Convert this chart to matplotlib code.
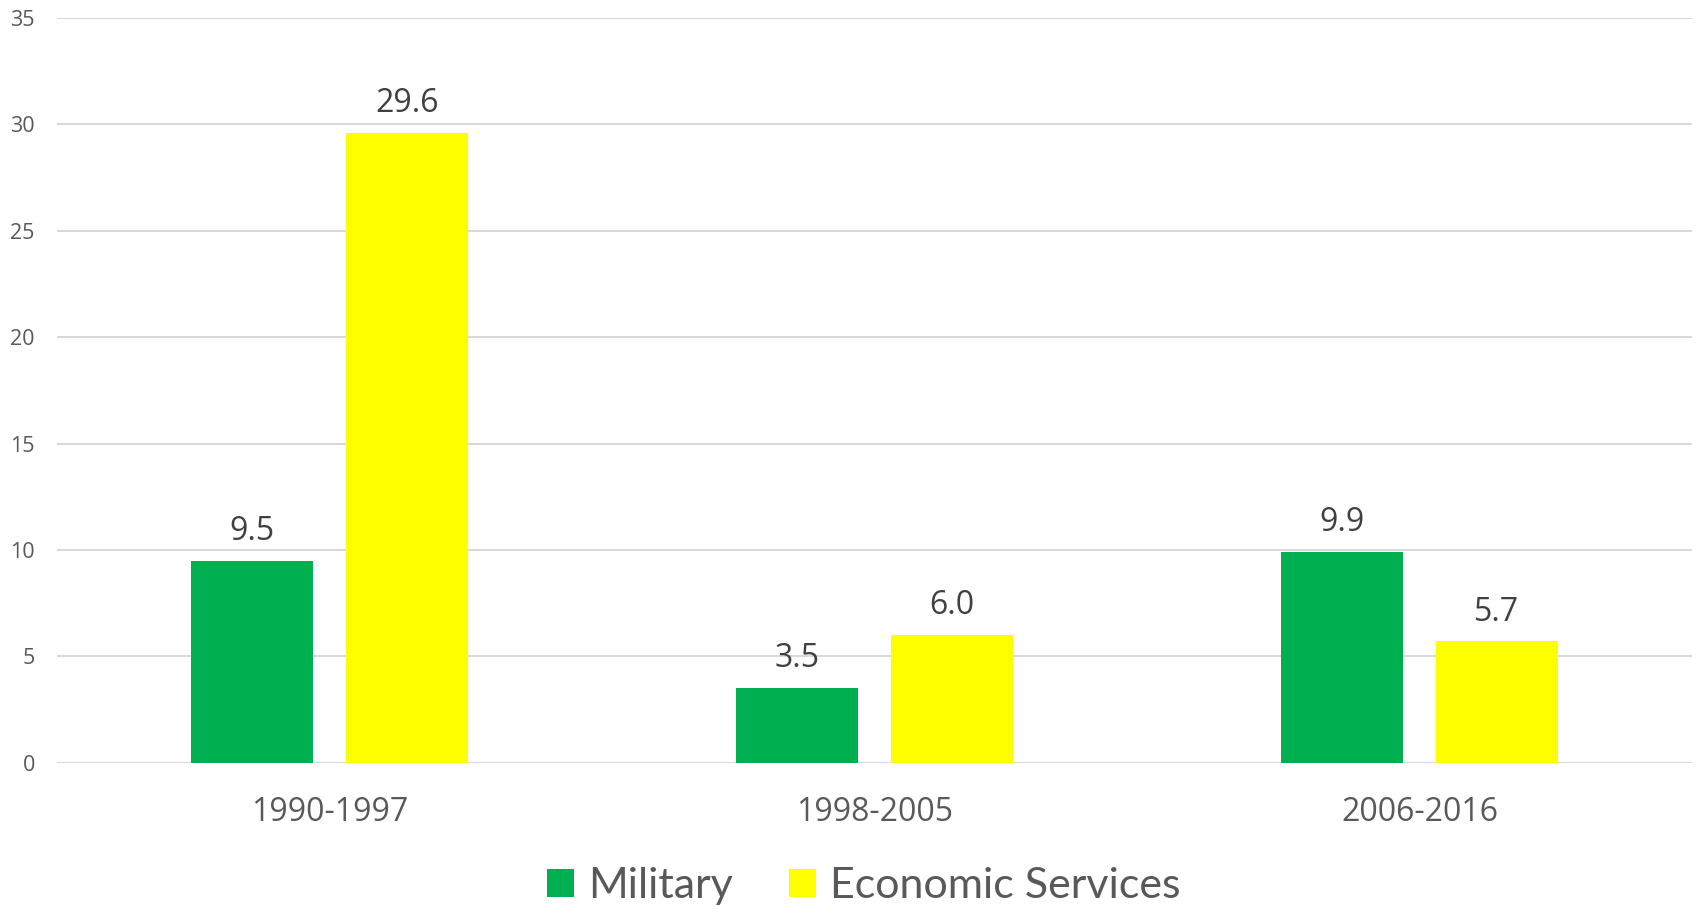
import matplotlib
matplotlib.use("Agg")
import matplotlib.pyplot as plt
import numpy as np

matplotlib.rcParams.update({
    "font.family": ["Open Sans", "DejaVu Sans"],
    "axes.spines.top": False,
    "axes.spines.right": False,
    "axes.spines.left": False,
    "axes.spines.bottom": False,
})

PERIODS = ["1990-1997", "1998-2005", "2006-2016"]
MILITARY = [9.5, 3.5, 9.9]
ECONOMIC = [29.6, 6.0, 5.7]
SERIES = ["Military", "Economic Services"]
COLORS = ["#00B050", "#FFFF00"]
Y_TICKS = [0, 5, 10, 15, 20, 25, 30, 35]

GRID = "#D9D9D9"
TICK_TXT = "#595959"
LABEL_TXT = "#404040"

fig = plt.figure(figsize=(16.96, 9.09), dpi=100)
ax = fig.add_axes([57 / 1696, 1 - 762.7 / 909, (1692 - 57) / 1696, (762.7 - 18) / 909])

x = np.arange(len(PERIODS))
width = 0.224
offset = 0.142

handles = []
for vals, color, name, sign in zip([MILITARY, ECONOMIC], COLORS, SERIES, [-1, 1]):
    bars = ax.bar(x + sign * offset, vals, width=width, color=color,
                  label=name, zorder=3)
    handles.append(bars)
    for xi, v in zip(x + sign * offset, vals):
        ax.annotate(f"{v:.1f}", (xi, v), xytext=(0, 15), textcoords="offset points",
                    ha="center", va="baseline", fontsize=23, color=LABEL_TXT)

ax.set_xlim(-0.5, len(PERIODS) - 0.5)
ax.set_ylim(0, 35)
ax.set_yticks(Y_TICKS)
ax.set_yticklabels([str(t) for t in Y_TICKS], fontsize=15.5, color=TICK_TXT)
ax.set_xticks(x)
ax.set_xticklabels(PERIODS, fontsize=23, color=TICK_TXT)
ax.tick_params(axis="y", length=0, pad=16)
ax.tick_params(axis="x", length=0, pad=24)
ax.yaxis.grid(True, color=GRID, linewidth=1.5, zorder=0)
ax.set_axisbelow(True)

# legend sits centred under the plot, square swatches
fig.legend(handles=handles, labels=SERIES, loc="center",
           bbox_to_anchor=(863.5 / 1696, 1 - 886 / 909), ncol=2, frameon=False,
           prop={"family": "Lato", "size": 31},
           labelcolor=TICK_TXT, handlelength=0.63, handleheight=0.63,
           handletextpad=0.33, columnspacing=1.3, borderpad=0)

fig.savefig("out.png", dpi=100)
